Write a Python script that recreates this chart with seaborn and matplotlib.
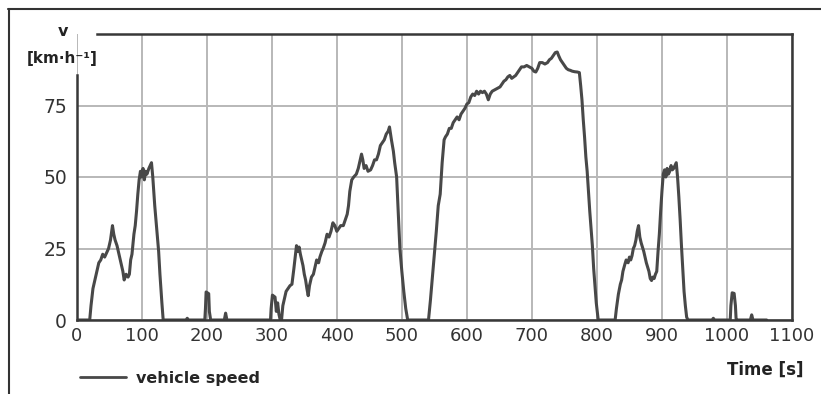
import matplotlib
matplotlib.use("Agg")
import matplotlib.pyplot as plt
import seaborn as sns
import pandas as pd
from matplotlib.lines import Line2D

# ---------------- data ----------------
time_s = [
    0, 20, 22, 25, 28, 31, 34, 37, 40, 43, 46, 49, 52, 55, 57, 59, 62, 65, 68, 71, 73, 76, 79, 81,
    83, 85, 88, 90, 92, 94, 96, 98, 100, 102, 104, 106, 108, 111, 113, 115, 117, 120, 123, 126,
    128, 131, 133,
    168, 170, 172, 197, 198, 199, 203, 204, 206, 227, 229, 231,
    298, 299, 301, 305, 307, 309, 311, 313, 315,
    317, 319, 322, 325, 328, 331, 334, 336, 338, 340, 342, 344, 346, 348, 350, 352, 354, 356, 358,
    361, 364, 367, 369, 372, 374, 377, 379, 382, 385, 388, 391, 394, 397, 400, 403, 406, 410, 413,
    416, 418, 420, 423, 426, 430, 433, 436, 438, 440, 442, 445, 448, 452, 455, 458, 461, 464, 467,
    470, 473, 476, 479, 481, 484, 487, 489, 492, 494, 497, 500, 503, 506, 509, 541,
    544, 547, 550, 553, 556, 559, 562, 565, 567, 570, 573, 576, 579, 582, 585, 588, 591, 594, 597,
    600, 603, 606, 609, 612, 615, 618, 621, 624, 627, 630, 633, 636, 639, 643, 647, 651, 654, 657,
    660, 663, 666, 669, 672, 675, 678, 681, 684, 688, 692, 696, 700, 703, 706, 709, 712, 716, 720,
    724, 727, 730, 733, 736, 739, 741, 744, 747, 750, 753, 756, 759, 762, 766, 770, 773, 775, 777,
    779, 781, 783, 785, 787, 789, 791, 793, 795, 797, 799, 802, 828,
    830, 833, 836, 838, 840, 843, 845, 848, 850, 852, 854, 856, 858, 860, 862, 864, 866, 868, 870,
    872, 874, 876, 878, 880, 882, 884, 886, 888, 890, 892, 894, 896, 898, 900, 902, 904, 906, 908,
    910, 912, 914, 916, 918, 920, 922, 924, 926, 928, 930, 932, 934, 936, 938, 940,
    977, 979, 981, 1005, 1006, 1008, 1011, 1013, 1014, 1016, 1036, 1038, 1040, 1061,
]
speed_kmh = [
    0, 0, 5, 11, 14, 17, 20, 21, 23, 22, 23.5, 25, 28, 33, 30, 28, 26, 23, 20, 17, 14, 16, 15, 16,
    21, 23, 30, 33, 38, 44, 49, 52, 50, 53, 49, 52, 51, 53, 54, 55, 50, 40, 32, 24,
    16, 6, 0,
    0, 0.6, 0, 0, 4, 9.8, 9.2, 3, 0, 0, 2.4, 0,
    0, 4, 8.7, 8, 3, 6, 2, 0, 0,
    5, 7, 10, 11, 12, 12.5, 18, 22, 26, 24, 25.5, 23, 21, 19, 16, 14, 11, 8.5, 12,
    15, 16, 19, 21, 20, 22, 24, 25, 27, 30, 29, 31, 34, 33, 31, 32, 33, 33, 35,
    37, 40, 45, 49, 50, 51, 53, 56, 58, 56, 53, 54, 52, 52.5, 54, 56, 56, 58, 61,
    62, 63, 65, 66, 67.5, 63, 59, 55, 50, 40, 25, 17, 10, 4, 0, 0,
    7, 15, 23, 31, 40, 44, 55, 63, 64, 65, 67, 67, 69, 70, 71, 70, 72, 73, 74,
    75.5, 76, 78, 79, 78.5, 80, 79, 80, 79.5, 80, 79, 77, 79, 80, 80.5, 81, 81.5, 82.5, 83.5,
    84, 85, 85.5, 84.5, 85, 85.5, 86.5, 87.5, 88.5, 88.5, 89, 88.5, 88, 87, 86.7, 88, 90, 90, 89.5,
    90, 91, 91.5, 92.5, 93.5, 93.7, 92.5, 91, 90, 89, 88, 87.5, 87.3, 87, 86.8, 86.7, 86.5, 82, 77,
    70, 64, 57, 52, 45, 38, 32, 26, 18, 12, 6, 0, 0,
    4, 9, 12.5, 14, 17, 19.5, 21, 20, 22, 21, 22.5, 25, 26, 28, 31, 33, 29, 27, 25.5,
    24, 22, 20, 18.5, 17, 14.5, 13.8, 15, 14.5, 16, 17, 24, 30, 38, 45, 51, 52.5, 50, 53,
    51, 52, 54, 52.5, 53, 54, 55, 50, 43, 35, 26, 18, 10, 5, 1, 0,
    0, 0.6, 0, 0, 5, 9.5, 9.3, 5, 0.5, 0, 0, 1.8, 0, 0,
]
x_ticks = [0, 100, 200, 300, 400, 500, 600, 700, 800, 900, 1000, 1100]
y_ticks = [0, 25, 50, 75]
series_name = "vehicle speed"
x_title = "Time [s]"
y_title_sym = "v"
y_title_unit = "[km·h⁻¹]"

# ---------------- plot ----------------
sns.set_style("white")
plt.rcParams["font.family"] = ["DejaVu Sans"]

W, H = 821, 394
fig = plt.figure(figsize=(W / 100, H / 100), dpi=100)
x0, x1, y0, y1 = 76.7, 792, 320, 34
ax = fig.add_axes([x0 / W, 1 - y0 / H, (x1 - x0) / W, (y0 - y1) / H])

df = pd.DataFrame({"t": time_s, "v": speed_kmh})
line_color = "#484848"
sns.lineplot(data=df, x="t", y="v", ax=ax, color=line_color, lw=2.2,
             estimator=None, sort=False, legend=False)

ax.set_xlim(0, 1100)
ax.set_ylim(0, 100)
ax.set_xticks(x_ticks)
ax.set_yticks(y_ticks)
ax.set_xlabel("")
ax.set_ylabel("")
ax.set_axisbelow(True)
ax.grid(True, color="#b8b8b8", lw=1.4)

for s in ax.spines.values():
    s.set_visible(True)
    s.set_color("#383838")
    s.set_linewidth(1.8)
ax.spines["left"].set_bounds(0, 85.8)
ax.spines["top"].set_bounds(31, 1100)

ax.tick_params(axis="x", length=0, pad=5, labelsize=13, labelcolor="#333333")
ax.tick_params(axis="y", length=0, pad=7, labelsize=13.5, labelcolor="#333333")

# axis titles
fig.text(63 / W, 1 - 31 / H, y_title_sym, ha="center", va="center",
         fontsize=11.5, fontweight="bold", color="#222222")
fig.text(62 / W, 1 - 59 / H, y_title_unit, ha="center", va="center",
         fontsize=11, fontweight="bold", color="#222222")
fig.text(803 / W, 1 - 370 / H, x_title, ha="right", va="center",
         fontsize=12, fontweight="bold", color="#222222")

# legend
handle = Line2D([], [], color=line_color, lw=2)
ax.legend([handle], [series_name], loc="center left",
          bbox_to_anchor=(80 / W, 1 - 378 / H), bbox_transform=fig.transFigure,
          frameon=False, borderpad=0, borderaxespad=0, handlelength=2.9,
          handletextpad=0.6, prop={"size": 11.5, "weight": "bold"})

# outer frame
fig.add_artist(Line2D([8 / W, 1], [1 - 9 / H, 1 - 9 / H], transform=fig.transFigure,
                      color="#333333", lw=1.5))
fig.add_artist(Line2D([9 / W, 9 / W], [0, 1 - 9 / H], transform=fig.transFigure,
                      color="#333333", lw=1.5))

fig.savefig("out.png", dpi=100)
